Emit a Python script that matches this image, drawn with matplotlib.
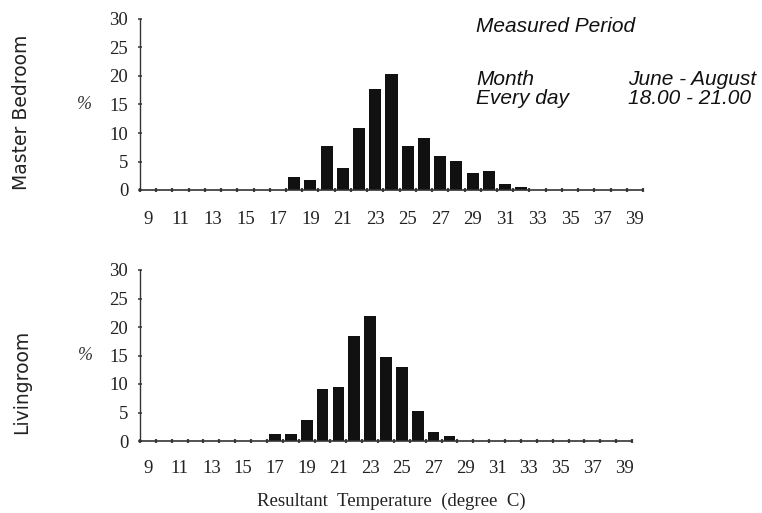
import matplotlib
matplotlib.use("Agg")
import matplotlib.pyplot as plt
from matplotlib.ticker import MultipleLocator, FixedLocator

# Hourly resultant temperature distribution (% of readings)
bedroom_temps = [18, 19, 20, 21, 22, 23, 24, 25, 26, 27, 28, 29, 30, 31, 32]
bedroom_pct = [2.2, 1.8, 7.7, 3.9, 10.9, 17.8, 20.3, 7.7, 9.1, 5.9, 5.1, 3.0, 3.3, 1.1, 0.6]

living_temps = [17, 18, 19, 20, 21, 22, 23, 24, 25, 26, 27, 28]
living_pct = [1.2, 1.2, 3.6, 9.1, 9.4, 18.4, 22.0, 14.8, 13.0, 5.2, 1.6, 0.9]

x_tick_labels = list(range(9, 40, 2))
y_ticks = [0, 5, 10, 15, 20, 25, 30]

room_names = ["Master Bedroom", "Livingroom"]
period_title = "Measured Period"
period_rows = [("Month", "June - August"), ("Every day", "18.00 - 21.00")]
x_label = "Resultant  Temperature  (degree  C)"

W, H = 762, 513
fig = plt.figure(figsize=(W / 100, H / 100), dpi=100)
fig.patch.set_facecolor("white")

serif = "Liberation Serif"
sans_it = "Liberation Sans"


def px_axes(left, right, bottom, top):
    return fig.add_axes([left / W, 1 - bottom / H, (right - left) / W, (bottom - top) / H])


ax_top = px_axes(140, 643, 190, 19)
ax_bot = px_axes(140, 632, 441, 270)

for ax, temps, pct, xpad in [(ax_top, bedroom_temps, bedroom_pct, 15),
                             (ax_bot, living_temps, living_pct, 14)]:
    ax.bar(temps, pct, width=0.74, color="#111111", edgecolor="none", zorder=2)
    ax.set_xlim(8.5, 39.5)
    ax.set_ylim(0, 30)
    for s in ("top", "right"):
        ax.spines[s].set_visible(False)
    ax.spines["left"].set_color("#333333")
    ax.spines["bottom"].set_color("#333333")
    ax.spines["left"].set_linewidth(1.0)
    ax.spines["bottom"].set_linewidth(1.2)

    ax.xaxis.set_major_locator(FixedLocator(x_tick_labels))
    ax.set_xticklabels([str(v) for v in x_tick_labels])
    ax.xaxis.set_minor_locator(MultipleLocator(1, offset=0.5))
    ax.tick_params(axis="x", which="major", length=0, pad=xpad,
                   labelsize=13.5, labelcolor="#222222")
    ax.tick_params(axis="x", which="minor", length=3, width=1.6,
                   direction="inout", color="#444444")

    ax.set_yticks(y_ticks)
    ax.set_yticklabels([str(v) for v in y_ticks])
    ax.tick_params(axis="y", length=3, width=1.2, direction="inout",
                   color="#444444", pad=7, labelsize=13.5, labelcolor="#222222")
    for lab in ax.get_xticklabels() + ax.get_yticklabels():
        lab.set_fontfamily(serif)

    ax.text(-0.11, 15, "%", transform=ax.get_yaxis_transform(), ha="center",
            va="center", fontsize=13, fontstyle="italic", family=serif, color="#333333")

fig.text(22 / W, 1 - 112 / H, room_names[0], rotation=90, ha="center", va="center",
         fontsize=13.5, family="DejaVu Sans", color="#222222")
fig.text(22 / W, 1 - 382 / H, room_names[1], rotation=90, ha="center", va="center",
         fontsize=13.5, family="DejaVu Sans", color="#222222")

fig.text(476 / W, 1 - 32 / H, period_title, ha="left", va="baseline",
         fontsize=15, family=sans_it, fontstyle="italic", color="#111111")
for i, (k, v) in enumerate(period_rows):
    yb = 85 + i * 19
    fig.text(476 / W, 1 - yb / H, k, ha="left", va="baseline",
             fontsize=15, family=sans_it, fontstyle="italic", color="#111111")
    fig.text(628 / W, 1 - yb / H, v, ha="left", va="baseline",
             fontsize=15, family=sans_it, fontstyle="italic", color="#111111")

fig.text(391 / W, 1 - 501 / H, x_label, ha="center", va="center",
         fontsize=13.5, family=serif, color="#222222")

fig.savefig("out.png", dpi=100, facecolor="white")
